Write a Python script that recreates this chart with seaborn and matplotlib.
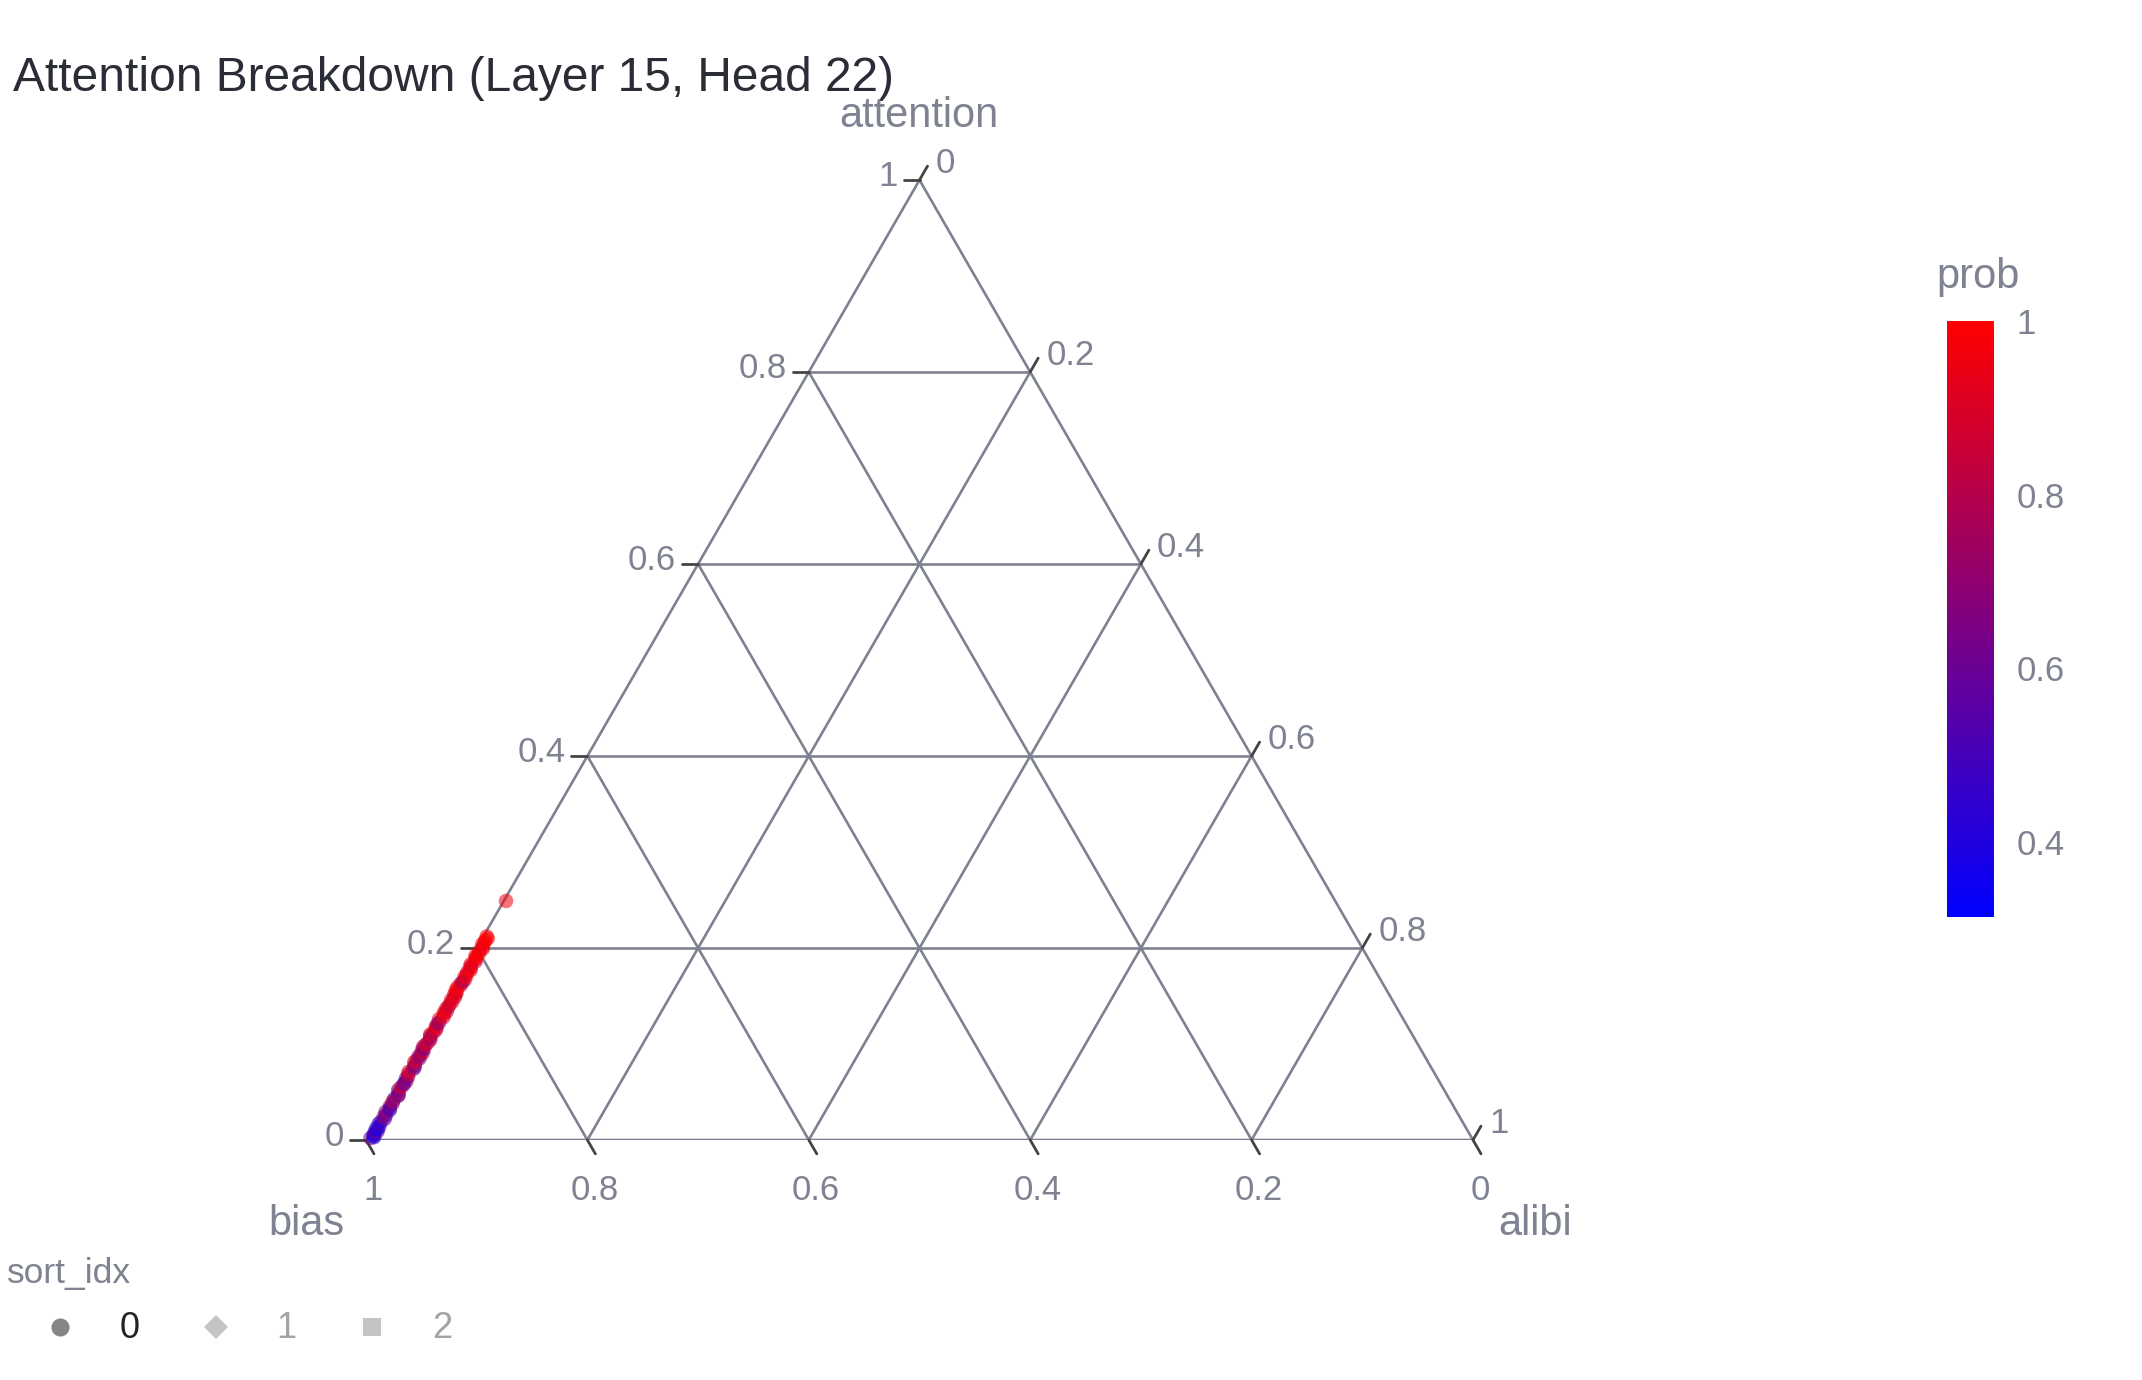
import numpy as np
import pandas as pd
import matplotlib
matplotlib.use("Agg")
import matplotlib.pyplot as plt
import seaborn as sns
from matplotlib.colors import LinearSegmentedColormap, Normalize
from matplotlib.cm import ScalarMappable

# ---------------- data ----------------
attention = [0.002, 0.004, 0.006, 0.009, 0.012, 0.014, 0.019, 0.022, 0.026, 0.029,
             0.031, 0.035, 0.038, 0.043, 0.046, 0.049, 0.052, 0.057, 0.061, 0.064,
             0.066, 0.071, 0.074, 0.078, 0.083, 0.085, 0.089, 0.093, 0.097, 0.101,
             0.104, 0.108, 0.112, 0.115, 0.118, 0.123, 0.126, 0.131, 0.134, 0.137,
             0.141, 0.146, 0.149, 0.152, 0.156, 0.161, 0.163, 0.167, 0.172, 0.175,
             0.179, 0.183, 0.186, 0.190, 0.194, 0.197, 0.201, 0.204, 0.208, 0.212,
             0.003, 0.008, 0.011, 0.017, 0.024, 0.033, 0.040, 0.047, 0.055, 0.059,
             0.068, 0.076, 0.081, 0.087, 0.091, 0.095, 0.099, 0.106, 0.110, 0.117,
             0.121, 0.128, 0.133, 0.139, 0.144, 0.151, 0.154, 0.159, 0.165, 0.170,
             0.177, 0.181, 0.188, 0.192, 0.199, 0.206, 0.210,
             0.249]
alibi = [0.003, 0.005, 0.004, 0.006, 0.003, 0.005, 0.004, 0.006, 0.005, 0.003,
         0.006, 0.004, 0.005, 0.004, 0.006, 0.005, 0.003, 0.005, 0.006, 0.004,
         0.005, 0.003, 0.006, 0.005, 0.004, 0.006, 0.005, 0.004, 0.003, 0.005,
         0.006, 0.004, 0.005, 0.006, 0.004, 0.005, 0.003, 0.005, 0.006, 0.004,
         0.005, 0.004, 0.006, 0.005, 0.003, 0.005, 0.004, 0.006, 0.005, 0.004,
         0.005, 0.003, 0.006, 0.004, 0.005, 0.004, 0.005, 0.003, 0.004, 0.003,
         0.006, 0.004, 0.005, 0.003, 0.004, 0.005, 0.004, 0.006, 0.004, 0.005,
         0.004, 0.006, 0.003, 0.004, 0.006, 0.005, 0.004, 0.005, 0.003, 0.005,
         0.004, 0.006, 0.004, 0.005, 0.006, 0.004, 0.005, 0.003, 0.005, 0.004,
         0.006, 0.004, 0.005, 0.003, 0.006, 0.004, 0.005,
         0.002]
bias = [0.995, 0.991, 0.990, 0.985, 0.985, 0.981, 0.977, 0.972, 0.969, 0.968,
        0.963, 0.961, 0.957, 0.953, 0.948, 0.946, 0.945, 0.938, 0.933, 0.932,
        0.929, 0.926, 0.920, 0.917, 0.913, 0.909, 0.906, 0.903, 0.900, 0.894,
        0.890, 0.888, 0.883, 0.879, 0.878, 0.872, 0.871, 0.864, 0.860, 0.859,
        0.854, 0.850, 0.845, 0.843, 0.841, 0.834, 0.833, 0.827, 0.823, 0.821,
        0.816, 0.814, 0.808, 0.806, 0.801, 0.799, 0.794, 0.793, 0.788, 0.785,
        0.991, 0.988, 0.984, 0.980, 0.972, 0.962, 0.956, 0.947, 0.941, 0.936,
        0.928, 0.918, 0.916, 0.909, 0.903, 0.900, 0.897, 0.889, 0.887, 0.878,
        0.875, 0.866, 0.863, 0.856, 0.850, 0.845, 0.841, 0.838, 0.830, 0.826,
        0.817, 0.815, 0.807, 0.805, 0.795, 0.790, 0.785,
        0.749]
prob = [0.62, 0.36, 0.313, 0.71, 0.40, 0.52, 0.38, 0.58, 0.47, 0.66,
        0.55, 0.84, 0.60, 0.49, 0.72, 0.88, 0.57, 0.64, 0.79, 0.61,
        0.69, 0.90, 0.63, 0.58, 0.86, 0.67, 0.74, 0.92, 0.66, 0.70,
        0.89, 0.68, 0.95, 0.73, 0.91, 0.65, 0.93, 0.97, 0.71, 0.90,
        0.96, 0.88, 0.76, 0.94, 0.98, 0.92, 0.79, 0.95, 0.99, 0.90,
        0.94, 0.97, 0.82, 0.96, 1.00, 0.93, 0.98, 0.95, 0.99, 0.97,
        0.44, 0.58, 0.35, 0.50, 0.69, 0.47, 0.81, 0.62, 0.90, 0.55,
        0.87, 0.64, 0.93, 0.68, 0.85, 0.61, 0.94, 0.72, 0.88, 0.96,
        0.70, 0.92, 0.98, 0.84, 0.93, 0.97, 0.89, 0.99, 0.74, 0.96,
        0.98, 0.91, 0.97, 0.99, 0.95, 0.98, 1.00,
        0.96]
sort_idx = [0] * len(attention)
sort_idx_levels = [0, 1, 2]
hidden_levels = [1, 2]
symbols = {0: "o", 1: "D", 2: "s"}

title = "Attention Breakdown (Layer 15, Head 22)"
tick_values = [0, 0.2, 0.4, 0.6, 0.8, 1]
tick_labels = ["0", "0.2", "0.4", "0.6", "0.8", "1"]
cbar_ticks = [0.4, 0.6, 0.8, 1.0]
cbar_labels = ["0.4", "0.6", "0.8", "1"]

# ---------------- style ----------------
W, H = 2142, 1380
sns.set_theme(style="white")
plt.rcParams["font.family"] = ["Liberation Sans", "DejaVu Sans"]
GRID = "#7e8190"
TXT = "#7f8291"
TICK = "#444444"
TITLE_C = "#2a2c36"

fig = plt.figure(figsize=(W / 100, H / 100), dpi=100)
fig.patch.set_facecolor("white")

# overlay axes in pixel coordinates for free text
ov = fig.add_axes([0, 0, 1, 1], zorder=0)
ov.set_xlim(0, W)
ov.set_ylim(H, 0)
ov.axis("off")

# ternary axes
L, R, B, T = 366, 1473, 1140, 180
hh = np.sqrt(3) / 2
ax = fig.add_axes([L / W, 1 - B / H, (R - L) / W, (B - T) / H], zorder=1)
ax.set_xlim(0, 1)
ax.set_ylim(0, hh)
ax.axis("off")
pu = 1.0 / (R - L)  # data units per pixel

# grid lines
GLW = 1.9
for v in [0.2, 0.4, 0.6, 0.8]:
    ax.plot([v / 2, 1 - v / 2], [v * hh, v * hh], color=GRID, lw=GLW, zorder=1)
    ax.plot([1 - v, (1 - v) / 2], [0, (1 - v) * hh], color=GRID, lw=GLW, zorder=1)
    ax.plot([v, (1 + v) / 2], [0, (1 - v) * hh], color=GRID, lw=GLW, zorder=1)
ax.plot([0, 1, 0.5, 0], [0, 0, hh, 0], color=GRID, lw=GLW, zorder=1,
        solid_joinstyle="miter")

# ticks and tick labels
tl = 16 * pu
fs_tick = 25
for v, lab in zip(tick_values, tick_labels):
    # attention (left edge)
    x0, y0 = v / 2, v * hh
    ax.plot([x0, x0 - tl], [y0, y0], color=TICK, lw=2, clip_on=False, zorder=2)
    ax.text(x0 - 22 * pu, y0 - 6 * pu, lab, ha="right", va="baseline",
            fontsize=fs_tick, color=TXT)
    # bias (bottom edge)
    x0, y0 = 1 - v, 0
    ax.plot([x0, x0 + 0.5 * tl], [y0, y0 - hh * tl], color=TICK, lw=2,
            clip_on=False, zorder=2)
    ax.text(x0 + 7 * pu, y0 - 60 * pu, lab, ha="center", va="baseline",
            fontsize=fs_tick, color=TXT)
    # alibi (right edge)
    x0, y0 = 0.5 + 0.5 * v, hh * (1 - v)
    ax.plot([x0, x0 + 0.5 * tl], [y0, y0 + hh * tl], color=TICK, lw=2,
            clip_on=False, zorder=2)
    ax.text(x0 + 16 * pu, y0 + 7 * pu, lab, ha="left", va="baseline",
            fontsize=fs_tick, color=TXT)

# data
df = pd.DataFrame({"attention": attention, "bias": bias, "alibi": alibi,
                   "prob": prob, "sort_idx": sort_idx})
tot = df["attention"] + df["bias"] + df["alibi"]
df["x"] = (df["alibi"] + df["attention"] / 2) / tot
df["y"] = df["attention"] * hh / tot

cmap = LinearSegmentedColormap.from_list("bluered", ["#0000ff", "#ff0000"])
norm = Normalize(vmin=min(prob), vmax=max(prob))
sns.scatterplot(data=df[df["sort_idx"] == 0], x="x", y="y", hue="prob",
                palette=cmap, hue_norm=norm, s=110, alpha=0.55, linewidth=0,
                marker="o", legend=False, ax=ax, zorder=3, clip_on=False)
ax.set_xlim(0, 1)
ax.set_ylim(0, hh)
ax.axis("off")

# titles
ov.text(13, 91, title, fontsize=34.5, color=TITLE_C, ha="left", va="baseline")
ov.text(919, 127, "attention", fontsize=30, color=TXT, ha="center", va="baseline")
ov.text(268, 1235, "bias", fontsize=30, color=TXT, ha="left", va="baseline")
ov.text(1498, 1235, "alibi", fontsize=30, color=TXT, ha="left", va="baseline")

# colorbar
cax = fig.add_axes([1947 / W, 1 - 917 / H, 47 / W, 596 / H], zorder=2)
cb = fig.colorbar(ScalarMappable(norm=norm, cmap=cmap), cax=cax)
cb.set_ticks(cbar_ticks)
cb.set_ticklabels(cbar_labels)
cb.outline.set_visible(False)
cax.tick_params(length=0, pad=16, labelsize=25, labelcolor=TXT)
ov.text(1936, 288, "prob", fontsize=30, color=TXT, ha="left", va="baseline")

# legend
ov.text(7, 1283, "sort_idx", fontsize=25.5, color=TXT, ha="left", va="baseline")
leg_marker_x = [60, 216, 372]
leg_text_x = [130, 286, 442]
for lvl, mx, tx in zip(sort_idx_levels, leg_marker_x, leg_text_x):
    hidden = lvl in hidden_levels
    mcol = "#c4c4c4" if hidden else "#858585"
    tcol = "#a3a3a3" if hidden else "#222222"
    ms = 12 if symbols[lvl] == "D" else 13
    ov.plot([mx], [1327], marker=symbols[lvl], ms=ms, color=mcol,
            markeredgewidth=0, linestyle="none")
    ov.text(tx, 1338, str(lvl), fontsize=26, color=tcol, ha="center", va="baseline")

fig.savefig("out.png", dpi=100, facecolor="white")
